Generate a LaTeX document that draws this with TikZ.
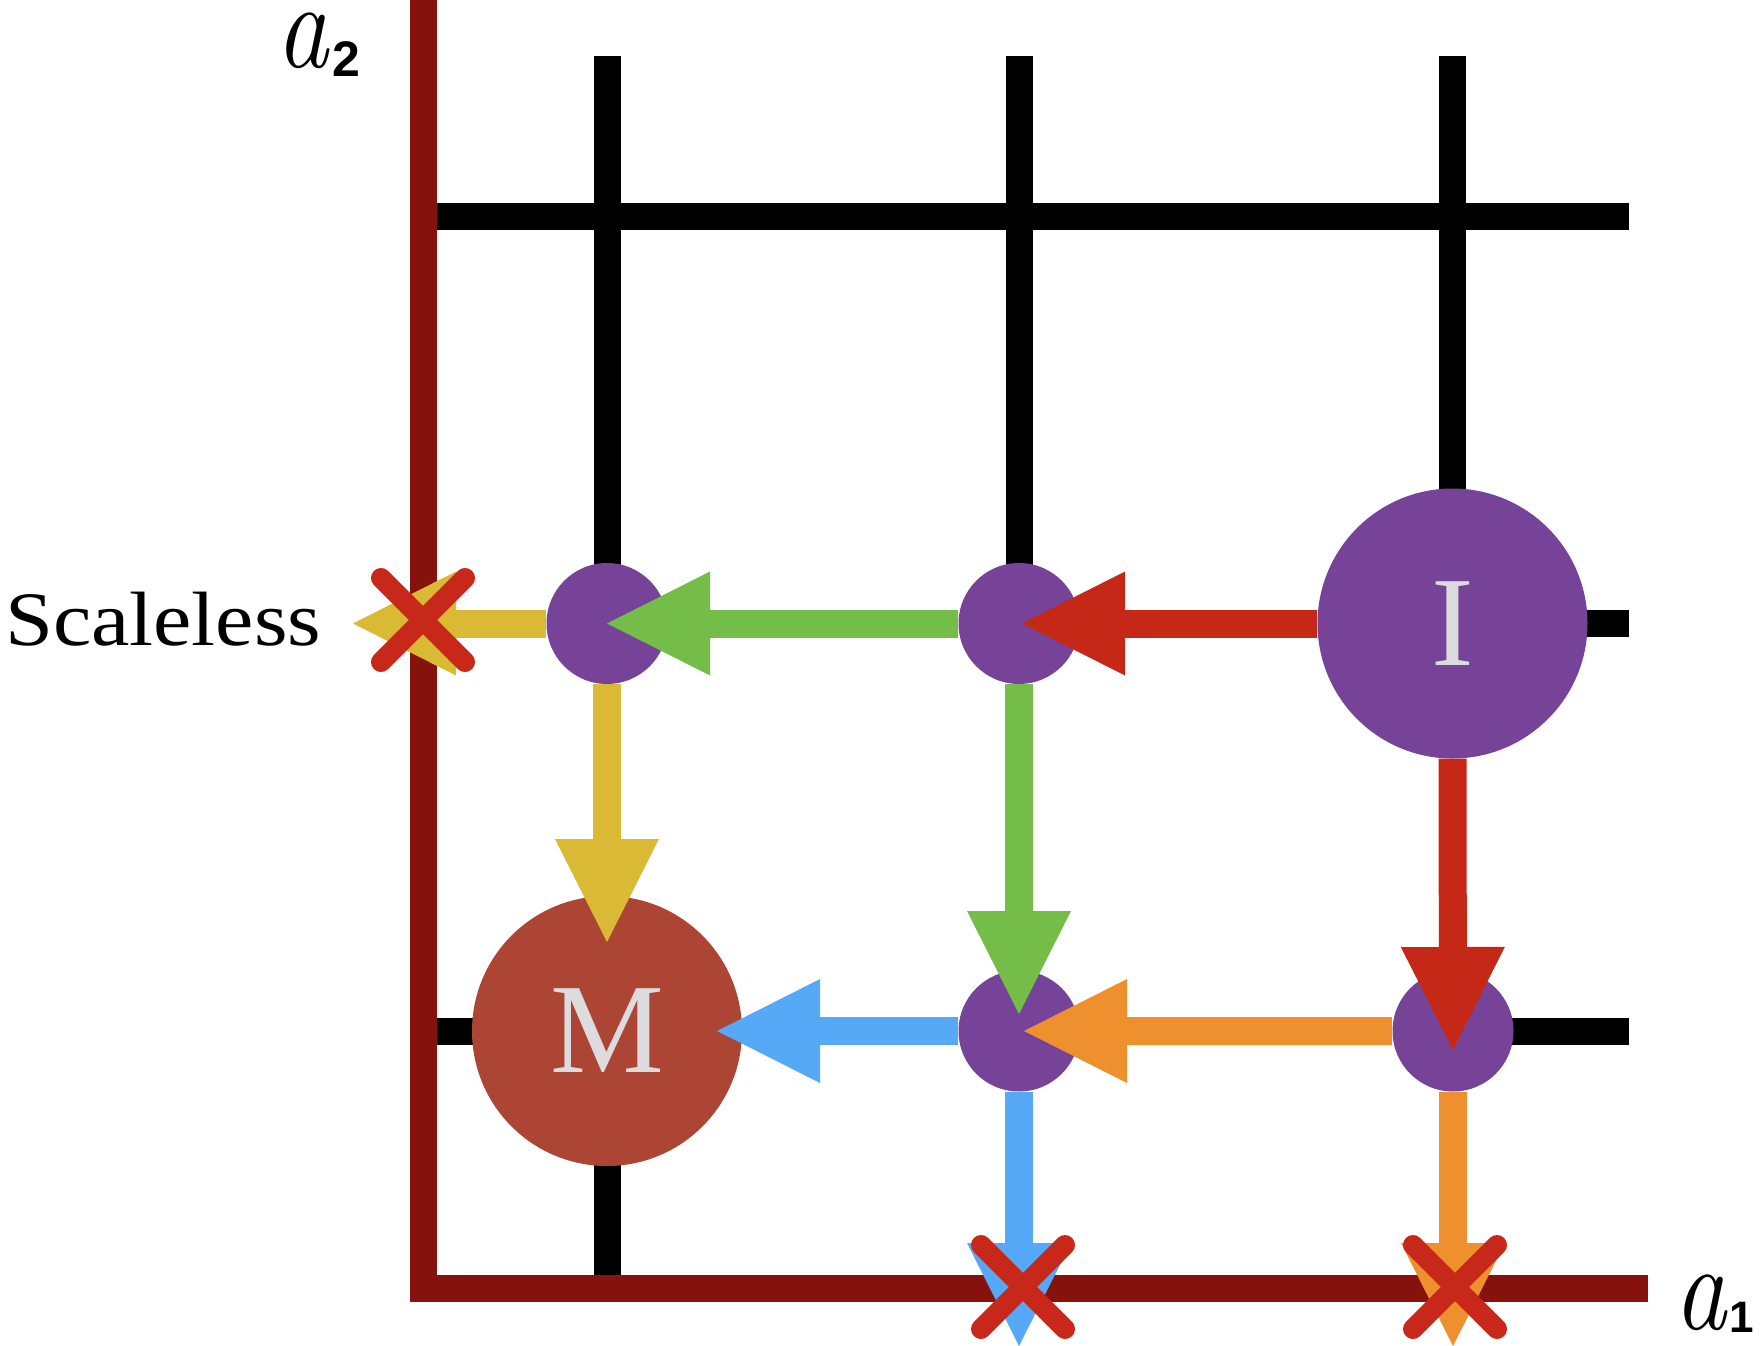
\documentclass[tikz,border=0pt]{standalone}
\usepackage{fontspec}
\usetikzlibrary{arrows.meta}
\newfontfamily\subfont{Liberation Sans}
\newfontfamily\labelfont{Liberation Serif}
\definecolor{purp}{HTML}{774398}
\definecolor{mred}{HTML}{AD4535}
\definecolor{axisred}{HTML}{86120E}
\definecolor{lettergrey}{HTML}{DCDCDE}
\definecolor{fred}{HTML}{C62818}
\definecolor{fgreen}{HTML}{74BD48}
\definecolor{fyellow}{HTML}{DAB934}
\definecolor{fblue}{HTML}{56A9F6}
\definecolor{forange}{HTML}{EF902F}
\definecolor{xred}{HTML}{C8281A}
\begin{document}
\begin{tikzpicture}[x=1pt,y=-1pt]
\tikzset{
 gridline/.style={line width=27pt, black},
 axisline/.style={line width=27pt, axisred},
 purpledot/.style={circle, fill=purp, minimum size=121pt, inner sep=0pt},
 bignode/.style={circle, minimum size=270pt, inner sep=0pt, text=lettergrey, font=\labelfont\fontsize{128}{128}\selectfont},
 flow/.style={line width=28pt, -{Triangle[length=103pt,width=104pt,line width=0pt]}},
 xmark/.style={line width=20pt, xred, line cap=round},
}
\useasboundingbox (0,0) rectangle (1762,1346);
% node positions
\coordinate (pI) at (1452.5,623.5);
\coordinate (pM) at (607,1031);
\coordinate (p1) at (607,623.5);
\coordinate (p2) at (1019,623.5);
\coordinate (p3) at (1019,1031);
\coordinate (p4) at (1453,1031);
% grid (visible black parts)
\draw[gridline] (607,56) -- (p1);
\draw[gridline] (pM) -- (607,1288);
\draw[gridline] (1019,56) -- (p2);
\draw[gridline] (1452.5,56) -- (pI);
\draw[gridline] (423,216.5) -- (1629,216.5);
\draw[gridline] (pI) -- (1629,623.5);
\draw[gridline] (423,1031) -- (pM);
\draw[gridline] (p4) -- (1629,1031);
% axes
\draw[axisline] (423.5,-10) -- (423.5,1288) -- (1648,1288);
% nodes
\node[bignode, fill=purp] (I) at (pI) {I};
\node[bignode, fill=mred] (M) at (pM) {M};
\node[purpledot] (n1) at (p1) {};
\node[purpledot] (n2) at (p2) {};
\node[purpledot] (n3) at (p3) {};
\node[purpledot] (n4) at (p4) {};
% free ends
\coordinate (yend) at (353,623.5);
\coordinate (bend) at (1019,1346);
\coordinate (oend) at (1453,1346);
% arrows
\draw[flow, fred] (I.west) -- ([xshift=3pt]n2.center);
\draw[flow, fred] (I.south) -- ([yshift=-19pt]n4.center);
\draw[flow, fgreen] (n2.west) -- (n1.center);
\draw[flow, fgreen] (n2.south) -- ([yshift=17pt]n3.center);
\draw[flow, fyellow] (n1.west) -- (yend);
\draw[flow, fyellow] (n1.south) -- ([yshift=89pt]M.center);
\draw[flow, forange] (n4.west) -- ([xshift=5pt]n3.center);
\draw[flow, forange] (n4.south) -- (oend);
\draw[flow, fblue] (n3.west) -- ([xshift=110pt]M.center);
\draw[flow, fblue] (n3.south) -- (bend);
% crosses
\coordinate (x1) at (423,620);
\coordinate (x2) at (1023,1287);
\coordinate (x3) at (1455,1287);
\foreach \c in {x1,x2,x3}
  \draw[xmark] (\c) ++(-42,-42) -- ++(84,84) (\c) ++(42,-42) -- ++(-84,84);
% labels
\node[anchor=base west, inner sep=0pt, font=\labelfont\fontsize{77}{77}\selectfont] (scal) at (5,645) {\scalebox{1.12}[1]{Scaleless}};
\node[anchor=base west, inner sep=0pt] (a2) at (276,68) {\fontsize{124}{124}\selectfont\itshape\scalebox{0.84}[1]{a}\kern4pt\raisebox{-9pt}{\upshape\subfont\bfseries\fontsize{50}{50}\selectfont 2}};
\node[anchor=base west, inner sep=0pt] (a1) at (1674,1329) {\fontsize{124}{124}\selectfont\itshape\scalebox{0.84}[1]{a}\kern3pt\raisebox{-3pt}{\upshape\subfont\bfseries\fontsize{44}{44}\selectfont 1}};
\end{tikzpicture}
\end{document}
